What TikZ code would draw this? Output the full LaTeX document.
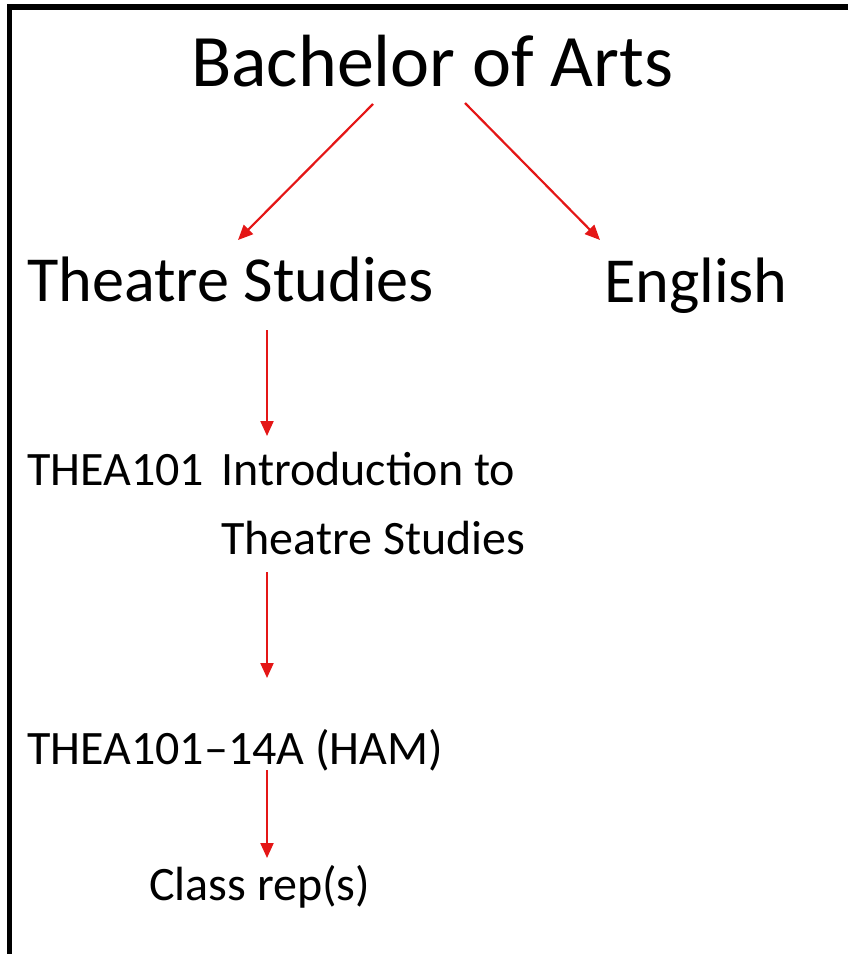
\documentclass[tikz,border=0pt]{standalone}
\usepackage{fontspec}
\setmainfont{Carlito}
\usetikzlibrary{arrows.meta,positioning}

\definecolor{arrowred}{RGB}{228,22,22}
\tikzset{
  big/.style={inner sep=0pt,anchor=base west,font=\fontsize{74bp}{88bp}\selectfont},
  mid/.style={inner sep=0pt,anchor=base west,font=\fontsize{64.2bp}{77bp}\selectfont},
  small/.style={inner sep=0pt,anchor=base west,font=\fontsize{48bp}{69bp}\selectfont},
  link/.style={->,draw=arrowred,line width=2.2bp},
}

\begin{document}
\begin{tikzpicture}[x=1bp,y=-1bp,>={Triangle[length=15bp,width=13bp]},line join=miter]
%%
  \clip (0,0) rectangle (848,954);
  \useasboundingbox (0,0) rectangle (848,954);
  \draw [line width=5.5bp] (9.5,7) rectangle (870,980);
  \node (ba) at (191,86) [big] {Bachelor of Arts};
  \node (ts) at (27,301) [mid] {Theatre Studies};
  \node (en) at (604,302) [mid] {English};
  \node (intro) at (27,485) [small]
    {\begin{tabular}[t]{@{}l@{\hspace{17bp}}l@{}}THEA101 & Introduction to\\ & Theatre Studies\end{tabular}};
  \node (ham) at (27,764) [small] {THEA101--14A (HAM)};
  \node (cr) at (149,900) [small] {Class rep(s)};
%
  \draw [link] ([shift={(182,18)}]ba.base west) -- ([shift={(211,-61)}]ts.base west);
  \draw [link] ([shift={(274,17)}]ba.base west) -- ([shift={(-4,-62)}]en.base west);
  \draw [link] ([shift={(240,29)}]ts.base west) -- ([shift={(240,-49)}]intro.base west);
  \draw [link] ([shift={(240,87)}]intro.base west) -- ([shift={(240,-86)}]ham.base west);
  \draw [link] ([shift={(240,6)}]ham.base west) -- ([shift={(118,-42)}]cr.base west);
%
\end{tikzpicture}
\end{document}
